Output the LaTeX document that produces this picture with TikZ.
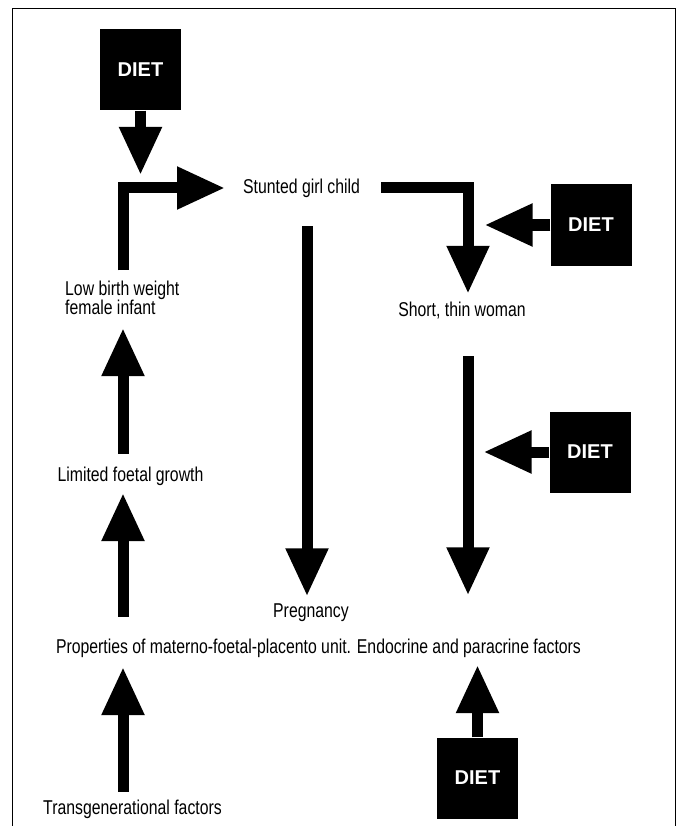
\documentclass[tikz,border=0pt]{standalone}
\usepackage{fontspec}
\setmainfont{Liberation Sans}[FakeStretch=0.79]
\newfontfamily\dietfont{Liberation Sans}
\usetikzlibrary{arrows.meta, positioning}

\begin{document}
\begin{tikzpicture}[x=1pt, y=-1pt,
    fat/.style={line width=11pt, line join=miter, -{Triangle[width=40pt,length=48pt]}},
    diet/.style={fill=black, text=white, minimum width=81pt, minimum height=81pt, inner sep=0pt, font=\dietfont\bfseries\fontsize{20}{20}\selectfont},
    lbl/.style={inner sep=0pt, font=\fontsize{20}{19}\selectfont}]

    \useasboundingbox (0,0) rectangle (680,826);
    \draw[line width=1pt] (12,826) |- (675,9) -- (675,826);

    % columns for the thick arrows
    \coordinate (colL) at (123,0);
    \coordinate (colM) at (307,0);
    \coordinate (colR) at (468,0);

    % Nodes for the diet boxes
    \node (diettop) [diet] at (140.5,70) {DIET};
    \node (dietA) [diet] at (591,225) {DIET};
    \node (dietB) [diet] at (590,452) {DIET};
    \node (dietC) [diet] at (477.5,778) {DIET};

    % Nodes for the stages
    \node (stunted) [lbl, anchor=west] at (243,188) {Stunted girl child};
    \node (woman) [lbl] at (462,311) {Short, thin woman};
    \node (lowbw) [lbl, align=left, anchor=west] at (65,298) {Low birth weight\\female infant};
    \node (limited) [lbl] at (130.5,476) {Limited foetal growth};
    \node (pregnancy) [lbl, anchor=west] at (273,613) {Pregnancy};
    \node (props) [lbl] at (318.5,648) {Properties of materno-foetal-placento unit. Endocrine and paracrine factors};
    \node (transgen) [lbl, anchor=west] at (43,809) {Transgenerational factors};

    % Arrows round the cycle
    \draw[fat, shorten >=13pt] (diettop.south) -- (diettop.south |- stunted.west);
    \draw[fat, shorten <=10.5pt, shorten >=18pt] (lowbw.north -| colL) |- (stunted.west);
    \draw[fat, shorten <=21pt, shorten >=8.5pt] (stunted.east) -| (woman.north -| colR);
    \draw[fat, shorten >=16.5pt] (dietA.west) -- (dietA.west -| colR);
    \draw[fat, shorten <=28.5pt, shorten >=7.5pt] (stunted.south -| colM) -- (pregnancy.north -| colM);
    \draw[fat, shorten <=36.5pt, shorten >=8.5pt] (woman.south -| colR) -- (pregnancy.north -| colR);
    \draw[fat, shorten >=15.5pt] (dietB.west) -- (dietB.west -| colR);
    \draw[fat, shorten <=12.5pt, shorten >=13pt] (limited.north -| colL) -- (lowbw.south -| colL);
    \draw[fat, shorten <=21.5pt, shorten >=7.5pt] (props.north -| colL) -- (limited.south -| colL);
    \draw[fat, shorten <=7.5pt, shorten >=9.5pt] (transgen.north -| colL) -- (props.south -| colL);
    \draw[fat, shorten >=7.5pt] (dietC.north) -- (props.south -| dietC.north);

\end{tikzpicture}
\end{document}
